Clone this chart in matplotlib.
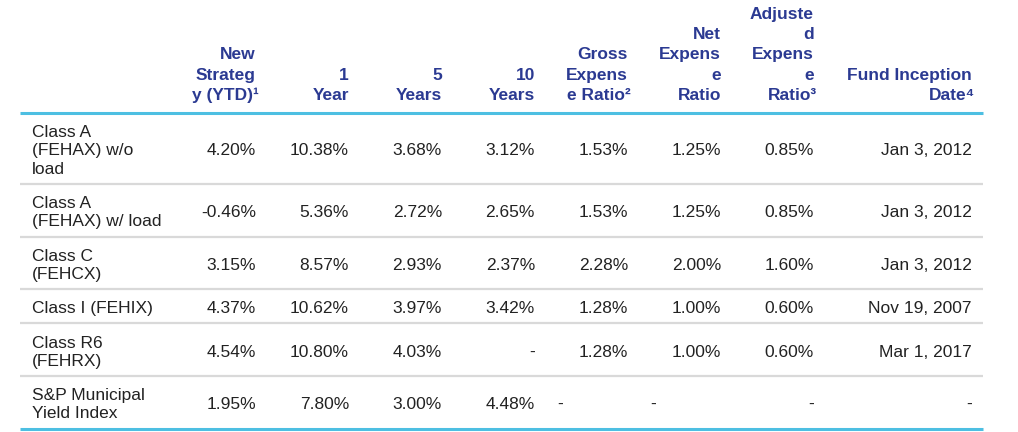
import matplotlib
matplotlib.use("Agg")
import matplotlib.pyplot as plt

plt.rcParams['font.family'] = ['Liberation Sans', 'DejaVu Sans']

# table content
headers = ["New\nStrateg\ny (YTD)\u00b9", "1\nYear", "5\nYears", "10\nYears",
           "Gross\nExpens\ne Ratio\u00b2", "Net\nExpens\ne\nRatio",
           "Adjuste\nd\nExpens\ne\nRatio\u00b3", "Fund Inception\nDate\u2074"]
row_labels = ["Class A\n(FEHAX) w/o\nload", "Class A\n(FEHAX) w/ load",
              "Class C\n(FEHCX)", "Class I (FEHIX)", "Class R6\n(FEHRX)",
              "S&P Municipal\nYield Index"]
new_strategy = ["4.20%", "-0.46%", "3.15%", "4.37%", "4.54%", "1.95%"]
one_year = ["10.38%", "5.36%", "8.57%", "10.62%", "10.80%", "7.80%"]
five_years = ["3.68%", "2.72%", "2.93%", "3.97%", "4.03%", "3.00%"]
ten_years = ["3.12%", "2.65%", "2.37%", "3.42%", "-", "4.48%"]
gross_ratio = ["1.53%", "1.53%", "2.28%", "1.28%", "1.28%", "-"]
net_ratio = ["1.25%", "1.25%", "2.00%", "1.00%", "1.00%", "-"]
adjusted_ratio = ["0.85%", "0.85%", "1.60%", "0.60%", "0.60%", "-"]
inception = ["Jan 3, 2012", "Jan 3, 2012", "Jan 3, 2012", "Nov 19, 2007",
             "Mar 1, 2017", "-"]
columns = [new_strategy, one_year, five_years, ten_years,
           gross_ratio, net_ratio, adjusted_ratio, inception]

# layout (pixels)
col_right = [256, 349, 442, 535, 628, 721, 814, 972]
left_x, right_x = 20, 983
label_x = 32
head_base = 100
head_step = 20.3
line_step = 18.3
top_rule = 113

HEAD_COLOR = "#2B3A92"
BODY_COLOR = "#222222"
BLUE = "#4DBFE2"
GRAY = "#D9D9D9"
FS = 12.5
SUPS = "\u00b9\u00b2\u00b3\u2074"

fig = plt.figure(figsize=(10.18, 4.32), dpi=100)
ax = fig.add_axes([0, 0, 1, 1])
ax.set_xlim(0, 1018)
ax.set_ylim(432, 0)
ax.axis("off")

# header, bottom aligned
for j, h in enumerate(headers):
    lines = h.split("\n")
    for k, ln in enumerate(reversed(lines)):
        x = col_right[j] + (3 if ln[-1] in SUPS else 0)
        ax.text(x, head_base - k * head_step, ln, ha="right", va="baseline",
                fontsize=FS, fontweight="bold", color=HEAD_COLOR)

ax.plot([left_x, right_x], [top_rule, top_rule], color=BLUE, lw=2.2,
        solid_capstyle="butt")

y = top_rule
for i, lab in enumerate(row_labels):
    n = lab.count("\n") + 1
    h = 16 + line_step * n
    center = y + h / 2 + 1.5
    base = center + 5.5
    first = base - (n - 1) * line_step / 2
    for k, ln in enumerate(lab.split("\n")):
        ax.text(label_x, first + k * line_step, ln, ha="left", va="baseline",
                fontsize=FS, color=BODY_COLOR)
    for j, col in enumerate(columns):
        val = col[i]
        # the two dashes in the last row sit at the left of their cells
        if i == len(row_labels) - 1 and j in (4, 5):
            ax.text(col_right[j - 1] + 22, base, val, ha="left", va="baseline",
                    fontsize=FS, color=BODY_COLOR)
        else:
            ax.text(col_right[j], base, val, ha="right", va="baseline",
                    fontsize=FS, color=BODY_COLOR)
    y += h
    last = i == len(row_labels) - 1
    ax.plot([left_x, right_x], [y, y], color=BLUE if last else GRAY,
            lw=2.2 if last else 1.6, solid_capstyle="butt")

fig.savefig("out.png", dpi=100)
